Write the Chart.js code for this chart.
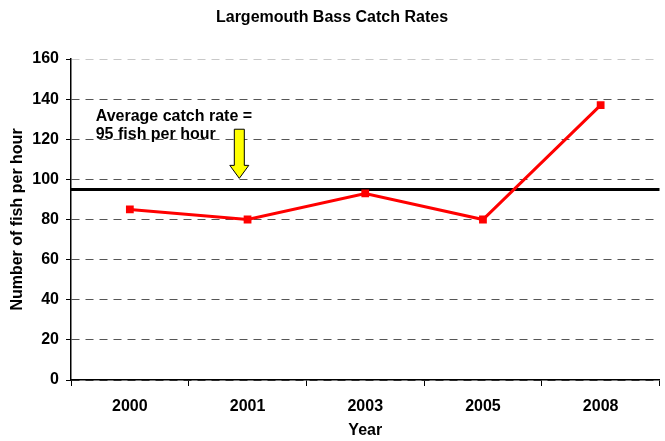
<!DOCTYPE html>
<html>
<head>
<meta charset="utf-8">
<script src="https://cdn.jsdelivr.net/npm/chart.js@4/dist/chart.umd.min.js"></script>
<style>
  body { margin: 0; background: #fff; }
</style>
</head>
<body>
<canvas id="graph" width="665" height="441"></canvas>
<script>
const years = ['2000', '2001', '2003', '2005', '2008']
const catchRates = [85, 80, 93, 80, 137]
const averageRate = 95
const yTicks = [0, 20, 40, 60, 80, 100, 120, 140, 160]
const noteLines = ['Average catch rate =', '95 fish per hour']

const FONT = '"Liberation Sans", Arial, sans-serif'

// note + arrow placement in data units (category index, y value)
const notePos = { x: -0.29, y: 129.3 }
const arrowPos = { x: 0.93, top: 125, tip: 100.5 }

const averagePlugin = {
    id: 'averageLine',
    beforeDatasetsDraw(chart) {
        const ctx = chart.ctx
        const area = chart.chartArea
        const y = chart.scales.y.getPixelForValue(averageRate)
        ctx.save()
        ctx.strokeStyle = '#000'
        ctx.lineWidth = 3
        ctx.beginPath()
        ctx.moveTo(area.left, y)
        ctx.lineTo(area.right, y)
        ctx.stroke()
        ctx.restore()
    },
    afterDatasetsDraw(chart) {
        const ctx = chart.ctx
        const xs = chart.scales.x
        const ys = chart.scales.y

        // text
        ctx.save()
        ctx.font = 'bold 16px ' + FONT
        ctx.fillStyle = '#000'
        ctx.textBaseline = 'alphabetic'
        ctx.textAlign = 'left'
        const tx = xs.getPixelForValue(notePos.x)
        const ty = ys.getPixelForValue(notePos.y)
        noteLines.forEach((line, i) => ctx.fillText(line, tx, ty + i * 18.5))

        // arrow
        const ax = xs.getPixelForValue(arrowPos.x)
        const top = ys.getPixelForValue(arrowPos.top)
        const tip = ys.getPixelForValue(arrowPos.tip)
        const headStart = tip - 13
        ctx.beginPath()
        ctx.moveTo(ax - 5, top)
        ctx.lineTo(ax + 5, top)
        ctx.lineTo(ax + 5, headStart)
        ctx.lineTo(ax + 9.5, headStart)
        ctx.lineTo(ax, tip)
        ctx.lineTo(ax - 9.5, headStart)
        ctx.lineTo(ax - 5, headStart)
        ctx.closePath()
        ctx.fillStyle = '#FFFF00'
        ctx.fill()
        ctx.strokeStyle = '#000'
        ctx.lineWidth = 1
        ctx.stroke()
        ctx.restore()
    }
}

function setGraph(){
    const ctx = document.getElementById('graph').getContext('2d')
    const structGraph = {
        type: 'line',
        data: {
            labels: years,
            datasets: [{
                label: 'Catch rate',
                data: catchRates,
                borderColor: '#FF0000',
                backgroundColor: '#FF0000',
                borderWidth: 3,
                pointStyle: 'rect',
                pointRadius: 5.5,
                pointBorderWidth: 0,
                tension: 0
            }]
        },
        options: {
            responsive: false,
            animation: false,
            layout: { padding: { left: 0, right: 1, top: 0, bottom: 0 } },
            plugins: {
                legend: { display: false },
                tooltip: { enabled: false },
                title: {
                    display: true,
                    text: 'Largemouth Bass Catch Rates',
                    color: '#000',
                    font: { family: FONT, size: 16, weight: 'bold' },
                    padding: { top: 7.5, bottom: 32.3 }
                }
            },
            scales: {
                x: {
                    offset: true,
                    afterFit: s => { s.height = 61 },
                    grid: {
                        offset: true,
                        drawOnChartArea: false,
                        drawTicks: true,
                        tickLength: 6,
                        tickColor: '#000',
                        color: '#000'
                    },
                    border: { display: true, color: '#000', width: 1.5 },
                    ticks: {
                        color: '#000',
                        padding: 11,
                        font: { family: FONT, size: 16, weight: 'bold' }
                    },
                    title: {
                        display: true,
                        text: 'Year',
                        color: '#000',
                        font: { family: FONT, size: 16, weight: 'bold' },
                        padding: 0.5
                    }
                },
                y: {
                    min: 0,
                    max: 160,
                    afterFit: s => { s.width = 71 },
                    afterBuildTicks: s => { s.ticks = yTicks.map(v => ({ value: v })) },
                    grid: {
                        color: c => c.tick && c.tick.value === 160 ? '#c8c8c8' : '#555',
                        lineWidth: 1,
                        tickLength: 5,
                        tickColor: '#000',
                        tickBorderDash: []
                    },
                    border: { display: true, color: '#000', width: 1.5, dash: [8, 6] },
                    ticks: {
                        color: '#000',
                        padding: 7,
                        font: { family: FONT, size: 16, weight: 'bold' }
                    },
                    title: {
                        display: true,
                        text: 'Number of fish per hour',
                        color: '#000',
                        font: { family: FONT, size: 16, weight: 'bold' },
                        padding: 7.8
                    }
                }
            }
        },
        plugins: [averagePlugin]
    }
    const myChart = new Chart(ctx, structGraph)
}

setGraph()
</script>
</body>
</html>
